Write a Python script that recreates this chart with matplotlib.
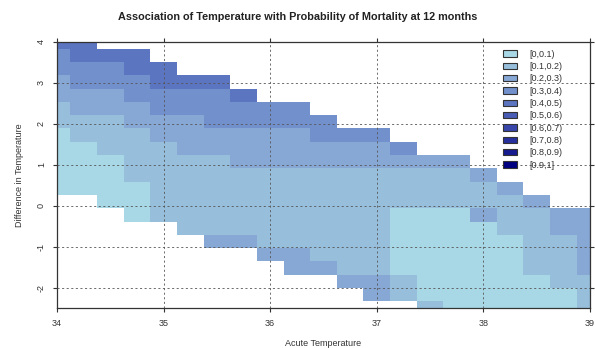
import numpy as np
import matplotlib
matplotlib.use("Agg")
import matplotlib.pyplot as plt
from matplotlib.colors import ListedColormap, BoundaryNorm
from matplotlib.patches import Patch

# ---- data -------------------------------------------------------------
# grid of acute temperature (x) and difference in temperature (y)
acute_temp = [34.0, 34.25, 34.5, 34.75, 35.0, 35.25, 35.5, 35.75, 36.0, 36.25,
              36.5, 36.75, 37.0, 37.25, 37.5, 37.75, 38.0, 38.25, 38.5, 38.75, 39.0]
diff_temp = [-2.5, -2.175, -1.85, -1.525, -1.2, -0.875, -0.55, -0.225, 0.1, 0.425,
             0.75, 1.075, 1.4, 1.725, 2.05, 2.375, 2.7, 3.025, 3.35, 3.675, 4.0]

# probability class per cell (0 -> [0,0.1), 1 -> [0.1,0.2), ...); '.' = no prediction
# rows listed from top (diff = 4.0) to bottom (diff = -2.5)
class_rows = [
    "44...................",
    "3444.................",
    "33344................",
    "2333444..............",
    "22233334.............",
    "1222333333...........",
    "11122233333..........",
    "0111222222333........",
    "00111222222223.......",
    "0001111222222222.....",
    "00011111111111112....",
    "000011111111111112...",
    "..00111111111111112.",
    "...011111111100021122",
    ".....11111111000011 22".replace(" ", ""),
    "......221111100000112",
    "........2211100000112",
    ".........221100000112",
    "...........2210000011",
    "............210000001",
    "..............1000001",
]

level_labels = ["[0,0.1)", "[0.1,0.2)", "[0.2,0.3)", "[0.3,0.4)", "[0.4,0.5)",
                "[0.5,0.6)", "[0.6,0.7)", "[0.7,0.8)", "[0.8,0.9)", "[0.9,1]"]
level_breaks = [0.0, 0.1, 0.2, 0.3, 0.4, 0.5, 0.6, 0.7, 0.8, 0.9, 1.0]
level_colors = ["#a8d7e6", "#97bfdc", "#87a7d5", "#7290cc", "#5b75c1",
                "#4a5db6", "#3846aa", "#27309d", "#171b90", "#000080"]

x_ticks = [34, 35, 36, 37, 38, 39]
y_ticks = [-2, -1, 0, 1, 2, 3, 4]

# ---- build probability matrix (class midpoints) -------------------------
rows_bottom_up = class_rows[::-1]
prob = np.full((len(diff_temp), len(acute_temp)), np.nan)
for j, row in enumerate(rows_bottom_up):
    for i, ch in enumerate(row[:len(acute_temp)]):
        if ch != ".":
            k = int(ch)
            prob[j, i] = (level_breaks[k] + level_breaks[k + 1]) / 2
prob = np.ma.masked_invalid(prob)

xs = np.array(acute_temp)
ys = np.array(diff_temp)
dx = np.diff(xs)
dy = np.diff(ys)
x_edges = np.concatenate([[xs[0] - dx[0] / 2], xs[:-1] + dx / 2, [xs[-1] + dx[-1] / 2]])
y_edges = np.concatenate([[ys[0] - dy[0] / 2], ys[:-1] + dy / 2, [ys[-1] + dy[-1] / 2]])

cmap = ListedColormap(level_colors)
norm = BoundaryNorm(level_breaks, cmap.N)

# ---- figure ---------------------------------------------------------------
plt.rcParams["font.family"] = ["Liberation Sans", "DejaVu Sans"]
fig = plt.figure(figsize=(5.95, 3.48), dpi=100)
ax = fig.add_axes([57 / 595, 1 - 308 / 348, (590 - 57) / 595, (308 - 42) / 348])

ax.pcolormesh(x_edges, y_edges, prob, cmap=cmap, norm=norm, shading="flat")

grid_kw = dict(color="#555555", lw=0.6, ls=(0, (2.5, 3)), zorder=3)
for xv in x_ticks[1:-1]:
    ax.axvline(xv, **grid_kw)
for yv in y_ticks[:-1]:
    ax.axhline(yv, **grid_kw)

ax.set_xlim(34, 39)
ax.set_ylim(-2.5, 4)
ax.set_xticks(x_ticks)
ax.set_yticks(y_ticks)
ax.set_yticklabels([str(v) for v in y_ticks], rotation=90, va="center")
ax.tick_params(axis="both", direction="out", length=3, width=0.8, labelsize=6.5,
               colors="#333333", top=True, right=True, pad=5)
for s in ax.spines.values():
    s.set_color("#333333")
    s.set_linewidth(0.9)

ax.set_xlabel("Acute Temperature", fontsize=6.5, color="#333333", labelpad=8)
ax.set_ylabel("Difference in Temperature", fontsize=6.5, color="#333333", labelpad=9)
fig.text(0.5, 1 - 17 / 348, "Association of Temperature with Probability of Mortality at 12 months",
         ha="center", va="center", fontsize=7.8, fontweight="bold", color="#222222")

handles = [Patch(facecolor=c, edgecolor="#333333", lw=0.8) for c in level_colors]
leg = ax.legend(handles, level_labels, loc="upper left", bbox_to_anchor=(0.83, 0.985),
                frameon=False, fontsize=6.5, handlelength=1.6, handleheight=0.7,
                labelspacing=0.37, handletextpad=1.3, borderaxespad=0)
for t in leg.get_texts():
    t.set_color("#333333")

fig.savefig("out.png", dpi=100)
